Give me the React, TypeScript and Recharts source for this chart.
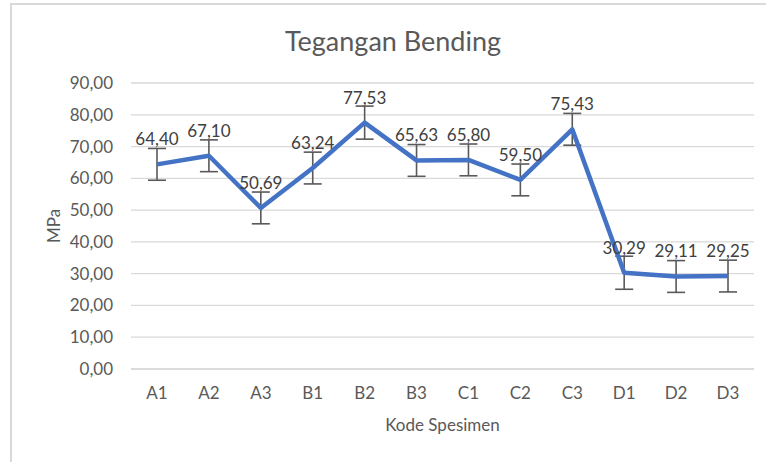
import React from "react";
import {
    LineChart,
    Line,
    XAxis,
    YAxis,
    CartesianGrid,
    ErrorBar,
    LabelList,
} from "recharts";

// Tegangan bending per specimen (MPa)
const codes = ["A1", "A2", "A3", "B1", "B2", "B3", "C1", "C2", "C3", "D1", "D2", "D3"];
const stress = [64.4, 67.1, 50.69, 63.24, 77.53, 65.63, 65.8, 59.5, 75.43, 30.29, 29.11, 29.25];
const errors = [5, 5, 5, 5, 5.2, 5, 5, 5, 5, 5.2, 5, 5];
const yTicks = [0, 10, 20, 30, 40, 50, 60, 70, 80, 90];

const data = codes.map((code, i) => ({ code, value: stress[i], err: errors[i] }));

const FONT = "Lato, 'Open Sans', sans-serif";
const fmt = (v: number) => v.toFixed(2).replace(".", ",");

export default function App() {
    return (
        <div style={{ position: "absolute", left: 0, top: 0, width: 766, height: 462, overflow: "hidden", background: "#fff", fontFamily: FONT }}>
            {/* chart frame, cut off on right and bottom like the screenshot */}
            <div style={{ position: "absolute", left: 10, top: 3, width: 820, height: 520, border: "2px solid #d9d9d9" }} />

            <div style={{ position: "absolute", left: 0, top: 24, width: 786, textAlign: "center", fontSize: 27, color: "#595959" }}>
                Tegangan Bending
            </div>

            <div style={{ position: "absolute", left: 53, top: 226, transform: "translate(-50%, -50%) rotate(-90deg)", fontSize: 17, color: "#595959", whiteSpace: "nowrap" }}>
                MPa
            </div>

            <div style={{ position: "absolute", left: 131, width: 623, top: 414, textAlign: "center", fontSize: 17, color: "#595959" }}>
                Kode Spesimen
            </div>

            <div style={{ position: "absolute", left: 0, top: 0 }}>
                <LineChart width={766} height={462} data={data} margin={{ top: 83, right: 12, left: 0, bottom: 63 }}>
                    <CartesianGrid vertical={false} stroke="#d9d9d9" strokeWidth={1.3} />
                    <XAxis
                        dataKey="code"
                        height={30}
                        padding={{ left: 26, right: 26 }}
                        tickLine={false}
                        axisLine={{ stroke: "#d9d9d9", strokeWidth: 1.3 }}
                        tickMargin={12}
                        tick={{ fill: "#595959", fontSize: 17, fontFamily: FONT }}
                        interval={0}
                    />
                    <YAxis
                        width={131}
                        domain={[0, 90]}
                        ticks={yTicks}
                        tickFormatter={fmt}
                        tickLine={false}
                        axisLine={false}
                        tickMargin={12}
                        tick={{ fill: "#595959", fontSize: 17, fontFamily: FONT }}
                    />
                    <Line
                        type="linear"
                        dataKey="value"
                        stroke="#4472c4"
                        strokeWidth={4.5}
                        strokeLinejoin="round"
                        dot={false}
                        activeDot={false}
                        isAnimationActive={false}
                    >
                        <ErrorBar dataKey="err" direction="y" width={9} stroke="#595959" strokeWidth={1.6} isAnimationActive={false} />
                        <LabelList
                            dataKey="value"
                            position="top"
                            offset={19}
                            formatter={(v: any) => fmt(Number(v))}
                            fill="#404040"
                            fontSize={17}
                            fontFamily={FONT}
                        />
                    </Line>
                </LineChart>
            </div>
        </div>
    );
}
